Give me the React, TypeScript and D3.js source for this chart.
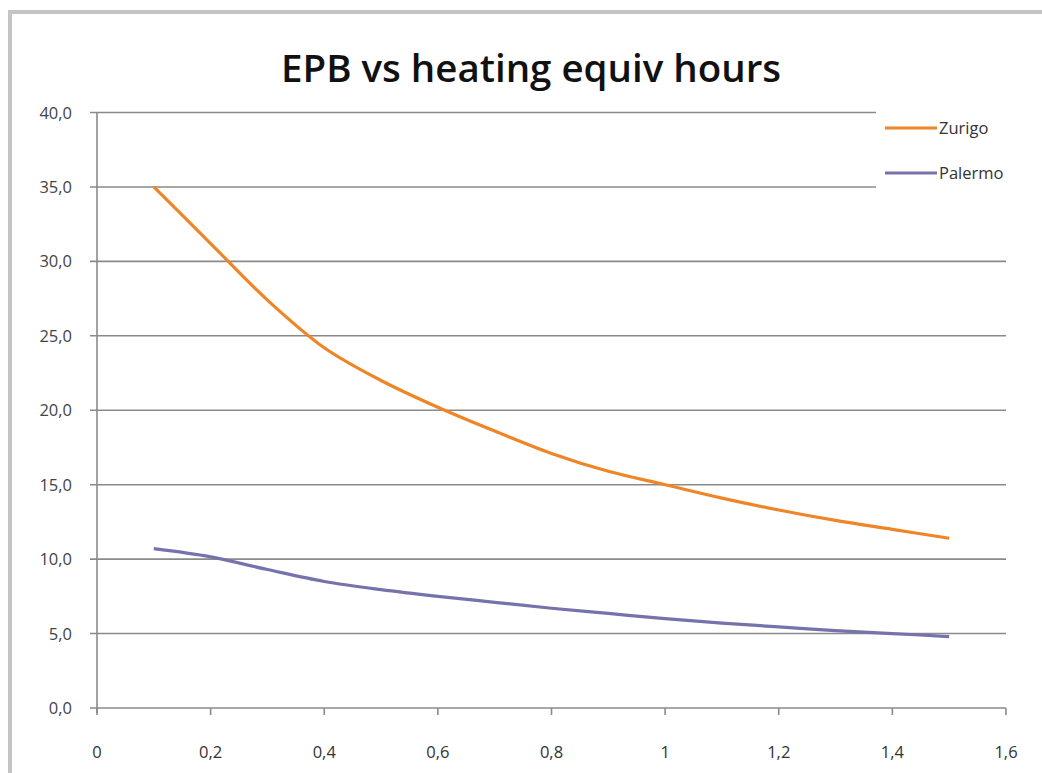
import React from "react";
import * as d3 from "d3";

const xValues = [0.1, 0.2, 0.3, 0.4, 0.5, 0.6, 0.7, 0.8, 0.9, 1.0, 1.1, 1.2, 1.3, 1.4, 1.5];
const zurigo = [35.0, 31.2, 27.4, 24.2, 22.0, 20.2, 18.6, 17.1, 15.9, 15.0, 14.1, 13.3, 12.6, 12.0, 11.4];
const palermo = [10.7, 10.15, 9.3, 8.5, 7.95, 7.5, 7.1, 6.7, 6.35, 6.0, 5.7, 5.45, 5.2, 5.0, 4.8];
const seriesNames = ["Zurigo", "Palermo"];
const seriesColors = ["#ee8627", "#7672ac"];
const yTicks = [0, 5, 10, 15, 20, 25, 30, 35, 40];
const xTicks = [0, 0.2, 0.4, 0.6, 0.8, 1.0, 1.2, 1.4, 1.6];
const title = "EPB vs heating equiv hours";

const fmtY = (v: number) => v.toFixed(1).replace(".", ",");
const fmtX = (v: number) => (v === 0 || v === 1 ? String(v) : String(+v.toFixed(1)).replace(".", ","));

export default function App() {
  const W = 1042, H = 773;
  const x = d3.scaleLinear().domain([0, 1.6]).range([97, 1006]);
  const y = d3.scaleLinear().domain([0, 40]).range([708, 112.5]);
  const line = d3
    .line<[number, number]>()
    .x((d) => x(d[0]))
    .y((d) => y(d[1]))
    .curve(d3.curveCatmullRom.alpha(0.5));
  const series = [zurigo, palermo].map((vals) => xValues.map((xv, i) => [xv, vals[i]] as [number, number]));
  const font = "'Open Sans', 'Liberation Sans', Arial, sans-serif";
  const grid = "#8a8a8a";
  return (
    <svg width={W} height={H} style={{ position: "absolute", left: 0, top: 0, background: "#fff" }}>
      <rect x={0} y={0} width={W} height={H} fill="#fff" />
      <rect x={10} y={12} width={W + 20} height={H + 20} fill="#fff" stroke="#c4c4c4" strokeWidth={4} />
      <text x={531} y={82} textAnchor="middle" fontFamily={font} fontWeight="600" fontSize={38} fill="#111" textLength={500} lengthAdjust="spacingAndGlyphs">
        {title}
      </text>
      {yTicks.map((t) => (
        <g key={"y" + t}>
          <line x1={90} x2={1006} y1={y(t)} y2={y(t)} stroke={grid} strokeWidth={1.6} />
          <text x={72} y={y(t) + 6} textAnchor="end" fontFamily={font} fontSize={16.5} fill="#444">
            {fmtY(t)}
          </text>
        </g>
      ))}
      <line x1={x(0)} x2={x(0)} y1={y(40)} y2={y(0) + 5} stroke={grid} strokeWidth={1.6} />
      {xTicks.map((t) => (
        <g key={"x" + t}>
          <line x1={x(t)} x2={x(t)} y1={y(0)} y2={y(0) + 7} stroke={grid} strokeWidth={1.6} />
          <text x={x(t)} y={758} textAnchor="middle" fontFamily={font} fontSize={16.5} fill="#333">
            {fmtX(t)}
          </text>
        </g>
      ))}
      <rect x={876} y={100} width={170} height={95} fill="#fff" />
      {series.map((s, i) => (
        <path key={i} d={line(s) || ""} fill="none" stroke={seriesColors[i]} strokeWidth={3.2} strokeLinecap="butt" />
      ))}
      {seriesNames.map((n, i) => (
        <g key={n}>
          <line x1={885} x2={937} y1={128 + i * 45} y2={128 + i * 45} stroke={seriesColors[i]} strokeWidth={3} />
          <text x={939} y={134 + i * 45} fontFamily={font} fontSize={16.5} fill="#333">
            {n}
          </text>
        </g>
      ))}
    </svg>
  );
}
